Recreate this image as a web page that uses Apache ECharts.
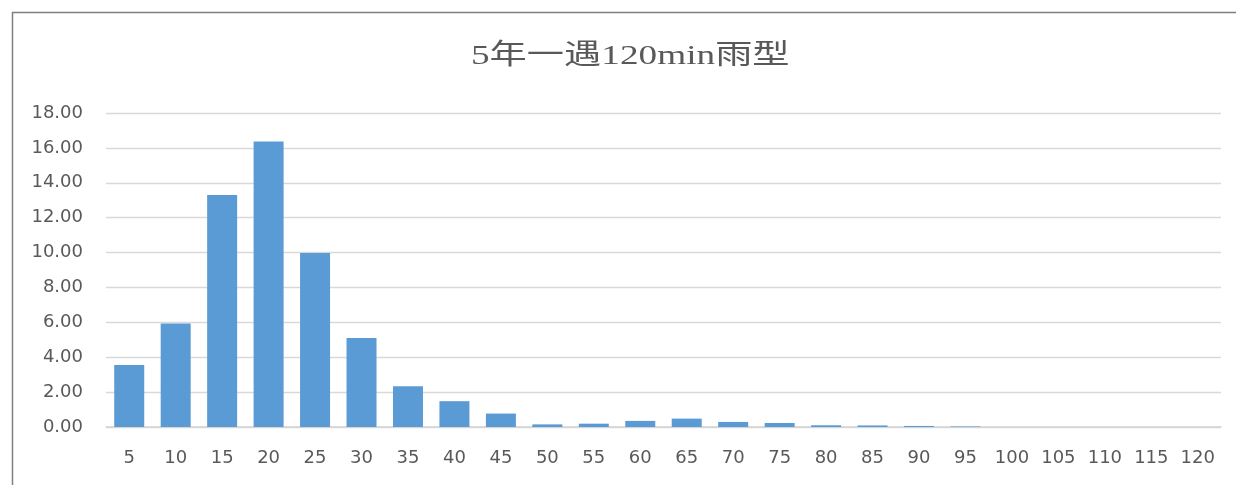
<!DOCTYPE html>
<html>
<head>
<meta charset="utf-8">
<script src="https://cdn.jsdelivr.net/npm/echarts@6/dist/echarts.min.js"></script>
<style>
  html, body { margin: 0; padding: 0; background: #fff; }
  #chart { width: 1236px; height: 485px; }
</style>
</head>
<body>
<div id="chart"></div>
<script>
// Rainfall pattern: share of rainfall (%) per 5-minute step over 120 minutes
const chartTitle = '5年一遇120min雨型';
const minutes = ['5', '10', '15', '20', '25', '30', '35', '40', '45', '50', '55', '60',
                 '65', '70', '75', '80', '85', '90', '95', '100', '105', '110', '115', '120'];
const rainShare = [3.55, 5.94, 13.30, 16.37, 9.97, 5.10, 2.34, 1.48, 0.77, 0.15, 0.19, 0.35,
                   0.48, 0.29, 0.23, 0.10, 0.09, 0.06, 0.03, 0, 0, 0, 0, 0];
const yMin = 0, yMax = 18, yStep = 2;

const chart = echarts.init(document.getElementById('chart'), null, { renderer: 'canvas' });
const labelFont = 'DejaVu Sans';

chart.setOption({
  animation: false,
  backgroundColor: '#ffffff',
  graphic: [
    // frame edges
    { type: 'line', shape: { x1: 12.5, y1: 12, x2: 12.5, y2: 485 }, style: { stroke: '#7f7f7f', lineWidth: 1.5 }, silent: true },
    { type: 'line', shape: { x1: 12, y1: 12.5, x2: 1236, y2: 12.5 }, style: { stroke: '#7f7f7f', lineWidth: 1.5 }, silent: true },
    // chart title, widened
    {
      type: 'text',
      x: 471,
      y: 57,
      scaleX: 1.33,
      silent: true,
      style: {
        text: chartTitle,
        font: '28px "Liberation Serif", "Noto Sans CJK SC", serif',
        fill: '#595959',
        align: 'left',
        verticalAlign: 'middle'
      }
    }
  ],
  grid: { left: 106, right: 15, top: 113, bottom: 58, containLabel: false },
  xAxis: {
    type: 'category',
    data: minutes,
    axisLine: { show: true, lineStyle: { color: '#d4d4d4', width: 1.5 } },
    axisTick: { show: false },
    axisLabel: { color: '#595959', fontSize: 18, fontFamily: labelFont, margin: 22 }
  },
  yAxis: {
    type: 'value',
    min: yMin,
    max: yMax,
    interval: yStep,
    axisLine: { show: false },
    axisTick: { show: false },
    splitLine: { lineStyle: { color: '#d9d9d9', width: 1.3 } },
    axisLabel: {
      color: '#595959', fontSize: 18, fontFamily: labelFont, margin: 23,
      formatter: v => v.toFixed(2)
    }
  },
  series: [{
    type: 'bar',
    data: rainShare,
    barWidth: 30,
    itemStyle: { color: '#5b9bd5' }
  }]
});
</script>
</body>
</html>
